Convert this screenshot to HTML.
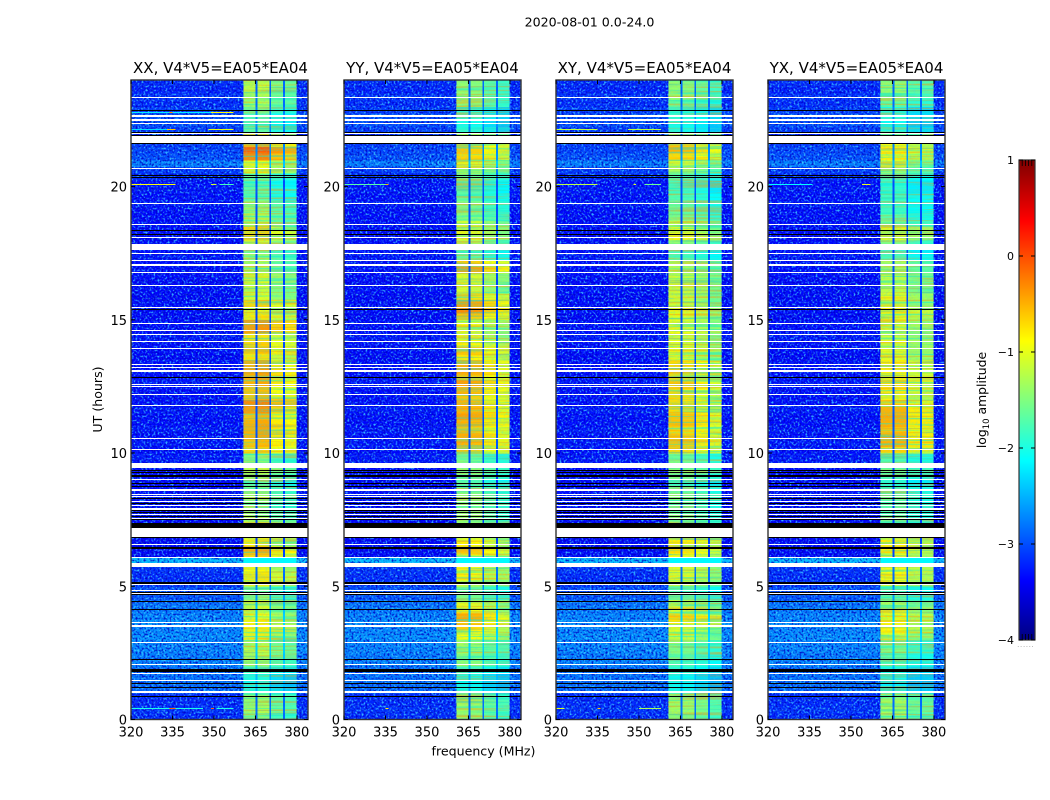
<!DOCTYPE html>
<html>
<head>
<meta charset="utf-8">
<title>2020-08-01 0.0-24.0</title>
<style>
html,body{margin:0;padding:0;background:#fff;}
svg{display:block;font-family:"DejaVu Sans","Liberation Sans",sans-serif;}
text{fill:#000;}
</style>
</head>
<body>
<svg id="chart" xmlns="http://www.w3.org/2000/svg" width="1050" height="800" viewBox="0 0 1050 800">
  <defs>
    <filter id="speckle-light" x="0" y="0" width="100%" height="100%">
      <feTurbulence type="fractalNoise" baseFrequency="0.5" numOctaves="2" seed="7"/>
      <feColorMatrix type="matrix" values="0 0 0 0 0.05  0 0 0 0 0.62  0 0 0 0 1  4 0 0 0 -1.95"/>
    </filter>
    <filter id="speckle-dark" x="0" y="0" width="100%" height="100%">
      <feTurbulence type="fractalNoise" baseFrequency="0.5" numOctaves="2" seed="23"/>
      <feColorMatrix type="matrix" values="0 0 0 0 0  0 0 0 0 0  0 0 0 0 0.55  4 0 0 0 -1.95"/>
    </filter>
    <filter id="stripes-hot" x="0" y="0" width="100%" height="100%">
      <feTurbulence type="fractalNoise" baseFrequency="0.012 0.5" numOctaves="2" seed="11"/>
      <feColorMatrix type="matrix" values="0 0 0 0 1  0 0 0 0 0.3  0 0 0 0 0  4 0 0 0 -1.9"/>
    </filter>
    <filter id="stripes-cool" x="0" y="0" width="100%" height="100%">
      <feTurbulence type="fractalNoise" baseFrequency="0.012 0.5" numOctaves="2" seed="31"/>
      <feColorMatrix type="matrix" values="0 0 0 0 0  0 0 0 0 0.85  0 0 0 0 0.7  4 0 0 0 -1.9"/>
    </filter>
  </defs>
  <rect width="1050" height="800" fill="#fff"/>
  <text x="589.5" y="26.5" font-size="12.6" text-anchor="middle">2020-08-01 0.0-24.0</text>
  <text x="483.5" y="755.5" font-size="12.6" text-anchor="middle">frequency (MHz)</text>
  <text transform="translate(102,399.5) rotate(-90)" font-size="12.6" text-anchor="middle">UT (hours)</text>
  <g id="panels"></g>
  <g id="colorbar"></g>
  <text transform="translate(986,400) rotate(-90)" font-size="12.4" text-anchor="middle">log<tspan font-size="8.5" dy="3">10</tspan><tspan dy="-3"> amplitude</tspan></text>
  <text x="1026" y="647" font-size="6" fill="#777" text-anchor="middle" style="fill:#777;letter-spacing:1px">......</text>
</svg>
<script>
/* ---------- chart data: log10 amplitude, hours (UT), MHz ---------- */
const panelNames = ['XX', 'YY', 'XY', 'YX'];
const rowStepHours = 0.25;
/* quarter-hour rows from 0h upward; value is the peak sub-band level */
const backgroundLevel = [
 -3.2,-3.15,-3.2,-3.2,  -2.85,-2.8,-2.8,-2.8,  -2.7,-2.75,-2.7,-2.7,  -2.65,-2.7,-2.65,-2.7,
 -2.75,-2.8,-2.95,-3.0,  -3.15,-3.2,-3.15,-3.15,  -3.4,-3.4,-3.4,-3.4,  -3.4,-3.4,-3.35,-3.4,
 -3.4,-3.3,-3.35,-3.4,  -3.4,-3.4,-3.3,-3.3,  -3.35,-3.3,-3.35,-3.3,  -3.35,-3.35,-3.3,-3.35,
 -3.35,-3.35,-3.3,-3.35,  -3.35,-3.35,-3.4,-3.35,  -3.35,-3.3,-3.35,-3.35,  -3.4,-3.35,-3.35,-3.4,
 -3.35,-3.4,-3.35,-3.35,  -3.35,-3.3,-3.35,-3.35,  -3.4,-3.35,-3.35,-3.35,  -3.35,-3.3,-3.35,-3.3,
 -3.35,-3.2,-3.1,-2.75,  -3.0,-3.05,-3.1,-3.2,  -3.1,-3.0,-3.0,-3.1,  -3.2,-3.15,-3.25,-3.2
];
const xxBandLevel = [
 -1.5,-1.3,-1.4,-1.4,  -2.0,-2.1,-2.0,-1.8,  -1.4,-1.3,-1.2,-1.3,  -1.0,-0.9,-0.9,-1.0,
 -1.1,-1.2,-1.5,-1.6,  -1.0,-0.8,-0.9,-1.0,  -0.7,-0.5,-0.8,-0.9,  -1.6,-1.2,-1.3,-1.4,
 -1.5,-1.3,-1.5,-1.7,  -1.4,-1.2,-1.4,-1.5,  -0.7,-0.6,-0.5,-0.5,  -0.5,-0.6,-0.4,-0.3,
 -0.6,-0.6,-0.5,-0.5,  -0.4,-0.5,-0.8,-0.6,  -0.7,-0.8,-0.4,-0.4,  -0.8,-1.0,-0.7,-1.1,
 -1.2,-1.1,-1.1,-1.3,  -1.3,-1.4,-1.6,-1.2,  -0.7,-0.7,-1.3,-1.3,  -1.4,-1.4,-1.7,-1.7,
 -1.8,-1.6,-1.0,-1.0,  -0.3,-0.1,-0.5,-1.3,  -1.7,-1.8,-1.8,-1.6,  -1.3,-1.3,-1.2,-1.2
];
const yyBandLevel = [
 -1.4,-1.3,-1.3,-1.4,  -2.0,-2.1,-2.0,-1.8,  -1.4,-1.4,-1.3,-1.3,  -0.9,-0.8,-0.6,-0.5,
 -0.9,-1.0,-1.5,-1.6,  -1.0,-0.8,-0.9,-1.0,  -0.8,-0.6,-0.8,-1.0,  -1.6,-1.4,-1.4,-1.5,
 -1.5,-1.4,-1.5,-1.7,  -1.5,-1.4,-1.5,-1.6,  -0.6,-0.5,-0.5,-0.6,  -0.5,-0.4,-0.5,-0.5,
 -0.6,-0.5,-0.4,-0.6,  -0.4,-0.5,-0.8,-0.6,  -0.8,-1.0,-1.0,-0.9,  -0.6,-0.3,-0.4,-0.7,
 -1.1,-1.0,-1.0,-0.4,  -0.6,-1.6,-1.7,-1.3,  -1.0,-1.0,-1.1,-1.4,  -1.5,-1.5,-1.6,-1.7,
 -1.7,-1.5,-1.1,-1.0,  -0.7,-0.6,-0.6,-1.2,  -1.9,-2.0,-1.9,-1.9,  -1.4,-1.4,-1.4,-1.4
];
const xyBandLevel = [
 -1.4,-1.3,-1.3,-1.4,  -2.1,-2.1,-2.1,-1.9,  -1.7,-1.6,-1.5,-1.4,  -1.1,-1.0,-0.8,-0.7,
 -1.1,-1.2,-1.6,-1.7,  -1.1,-1.0,-1.0,-1.1,  -0.9,-0.7,-0.8,-1.0,  -1.7,-1.4,-1.5,-1.6,
 -1.6,-1.4,-1.6,-1.8,  -1.5,-1.4,-1.5,-1.6,  -0.7,-0.6,-0.6,-0.7,  -0.6,-0.6,-0.7,-0.7,
 -0.7,-0.7,-0.6,-0.7,  -0.6,-0.7,-1.0,-0.9,  -1.0,-1.1,-0.9,-1.0,  -1.0,-1.0,-1.1,-1.1,
 -1.1,-1.1,-1.1,-1.2,  -1.2,-1.7,-1.8,-1.4,  -0.9,-1.0,-1.2,-1.5,  -1.6,-1.6,-1.7,-1.8,
 -1.8,-1.7,-1.3,-1.1,  -0.7,-0.5,-0.6,-1.3,  -2.0,-2.0,-1.9,-1.9,  -1.6,-1.4,-1.4,-1.4
];
const yxBandLevel = [
 -1.4,-1.3,-1.3,-1.4,  -2.1,-2.2,-2.1,-2.0,  -1.7,-1.7,-1.5,-1.6,  -1.1,-0.9,-0.9,-0.9,
 -1.1,-1.3,-1.7,-1.8,  -1.0,-0.9,-0.9,-1.0,  -1.0,-0.8,-0.8,-1.0,  -1.8,-1.6,-1.7,-1.7,
 -1.7,-1.6,-1.7,-1.9,  -1.7,-1.5,-1.7,-1.7,  -0.7,-0.5,-0.5,-0.6,  -0.5,-0.5,-0.5,-0.7,
 -0.9,-0.8,-0.7,-0.8,  -0.8,-0.8,-1.0,-1.0,  -1.0,-1.1,-1.1,-1.0,  -0.9,-0.8,-1.1,-1.0,
 -1.2,-1.2,-1.2,-1.3,  -1.3,-1.8,-1.9,-1.5,  -1.0,-1.0,-1.5,-1.7,  -1.8,-1.8,-1.8,-1.9,
 -1.9,-1.8,-1.4,-1.2,  -0.9,-0.8,-0.9,-1.4,  -2.0,-2.1,-2.0,-2.0,  -1.6,-1.5,-1.4,-1.4
];
/* level offset of sub-bands 1..4 relative to the peak, per panel */
const xxSubBandOffset = [0, 0.05, -0.28, -0.38];
const yySubBandOffset = [0, -0.05, -0.3, -0.45];
const xySubBandOffset = [0, -0.05, -0.22, -0.42];
const yxSubBandOffset = [0, 0, -0.3, -0.32];
/* receiver sub-band edges, MHz */
const subBandStart = [360.6, 365.7, 370.6, 375.7];
const subBandEnd = [365.0, 370.0, 375.0, 379.9];
const gapLevelOffset = 0.35;
/* whole-row bright interference */
const wideBandStart = [5.86];
const wideBandEnd = [6.09];
const wideBandValue = [-2.45];
/* narrow interference lines */
const rfiHour = [22.8, 22.8, 22.8,  22.16, 22.16, 22.16,  20.1, 20.1, 20.1,  0.43, 0.43, 0.43, 0.43,  20.1, 20.1,  0.43,  22.16, 22.16, 20.1, 20.1, 20.1, 0.43, 0.43, 0.43,  20.1, 20.1];
const rfiFrom = [320, 334, 349,  320, 333, 348,  320, 349, 352,  320, 334, 349, 351,  320, 335,  335,  320, 346, 320, 348, 352, 320, 335, 350,  320, 354];
const rfiTo = [357, 335, 357,  334, 336, 357,  336, 351, 357,  346, 336, 350, 357,  336, 336,  336,  335, 358, 335, 349, 358, 323, 336, 358,  336, 357];
const rfiValue = [-2.2, -0.3, -0.9,  -2.3, -0.6, -1.0,  -0.9, -1.1, -1.8,  -2.0, -0.1, -0.1, -2.0,  -1.7, -0.5,  -0.8,  -1.2, -1.2, -1.2, -1.0, -1.6, -1.0, -0.6, -1.3,  -2.1, -1.0];
const rfiPanel = [0, 0, 0,  0, 0, 0,  0, 0, 0,  0, 0, 0, 0,  1, 1,  1,  2, 2, 2, 2, 2, 2, 2, 2,  3, 3];
/* flagged data: white = no data, black = flagged */
const whiteLineHour = [23.35,22.65,22.5,22.35,22.0,19.37,18.58,18.09,17.49,17.24,17.09,17.04,16.78,16.29,15.47,14.87,14.6,14.45,14.2,13.93,13.33,13.22,13.08,12.58,12.5,12.2,11.79,10.55,10.14,8.99,8.45,8.36,8.17,8.04,7.9,7.7,7.56,6.57,6.09,5.08,4.83,4.74,3.63,3.51,2.9,2.07,1.74,1.48];
const whiteBandStart = [21.63,20.66,17.62,9.43,8.57,6.85,5.72,0.99];
const whiteBandEnd = [21.91,20.71,17.84,9.62,8.65,7.19,5.86,1.07];
const blackLineHour = [22.86,22.04,21.93,21.61,20.33,18.34,18.19,15.4,12.84,9.33,9.27,8.84,8.74,8.3,8.12,7.86,7.61,7.49,6.84,4.78,4.71,4.13,2.26,1.36,1.21,0.88];
const blackBandStart = [20.38,9.09,7.74,7.19,6.4,5.1,4.41,1.77];
const blackBandEnd = [20.43,9.18,7.8,7.36,6.49,5.15,4.46,1.88];
/* tick labels */
const freqTicks = [320, 335, 350, 365, 380];
const hourTicks = [0, 5, 10, 15, 20];
const colorbarTicks = [-4, -3, -2, -1, 0, 1];

/* ---------- layout and scales ---------- */
const NS = 'http://www.w3.org/2000/svg';
const plotTop = 80, plotBottom = 719.5, plotWidth = 177;
const freqMin = 320, freqMax = 384, hourMin = 0, hourMax = 24;
const levelMin = -4, levelMax = 1;
const panelLeft = i => Math.round(131.2 + i * 212.4);
const panelLevels = [xxBandLevel, yyBandLevel, xyBandLevel, yxBandLevel];
const panelOffsets = [xxSubBandOffset, yySubBandOffset, xySubBandOffset, yxSubBandOffset];
const xScale = (mhz, left) => left + (mhz - freqMin) / (freqMax - freqMin) * plotWidth;
const yScale = h => plotBottom - (h - hourMin) / (hourMax - hourMin) * (plotBottom - plotTop);

function jet(v) {
  const t = Math.max(0, Math.min(1, (v - levelMin) / (levelMax - levelMin)));
  const ch = x => Math.round(255 * Math.max(0, Math.min(1, 1.5 - Math.abs(4 * t - x))));
  return 'rgb(' + ch(3) + ',' + ch(2) + ',' + ch(1) + ')';
}
function make(tag, attrs, parent) {
  const el = document.createElementNS(NS, tag);
  for (const k in attrs) el.setAttribute(k, attrs[k]);
  parent.appendChild(el);
  return el;
}
function cell(parent, x0, x1, y0, y1, fill) {
  return make('rect', {x: x0.toFixed(2), y: y0.toFixed(2), width: (x1 - x0).toFixed(2), height: (y1 - y0).toFixed(2), fill: fill, 'shape-rendering': 'crispEdges'}, parent);
}
/* flag rows snap to whole pixels so thin rows stay pure white or black */
function flagRow(parent, left, right, hTop, hBottom, fill) {
  const y0 = Math.round(yScale(hTop));
  const h = Math.max(1, Math.round(yScale(hBottom)) - y0);
  return make('rect', {x: left, y: y0, width: right - left, height: h, fill: fill, 'shape-rendering': 'crispEdges'}, parent);
}

const panelsRoot = document.getElementById('panels');
panelNames.forEach(function (name, p) {
  const left = panelLeft(p), right = left + plotWidth;
  const g = make('g', {}, panelsRoot);
  
  

  const title = make('text', {x: left + plotWidth / 2 + (p === 0 ? 1 : 0), y: 73, 'font-size': 15, 'text-anchor': 'middle'}, g);
  
  
  title.textContent = name + ', V4*V5=EA05*EA04';

  const levels = panelLevels[p], offs = panelOffsets[p];
  const heat = make('g', {}, g);
  
  

  /* background rows, then their speckle */
  backgroundLevel.forEach(function (bg, r) {
    const y0 = yScale((r + 1) * rowStepHours), y1 = yScale(r * rowStepHours) + 0.4;
    const bgCell = cell(heat, left, right, y0, y1, jet(bg));
    
    
  });
  wideBandStart.forEach(function (h0, i) {
    const wide = cell(heat, left, right, yScale(wideBandEnd[i]), yScale(h0), jet(wideBandValue[i]));
    
    
  });
  const noise1 = make('rect', {x: left, y: plotTop, width: plotWidth, height: plotBottom - plotTop, filter: 'url(#speckle-light)', opacity: 0.85}, g);
  
  
  const noise2 = make('rect', {x: left, y: plotTop, width: plotWidth, height: plotBottom - plotTop, filter: 'url(#speckle-dark)', opacity: 0.85}, g);
  
  

  /* sub-band cells, their striping, then the gaps */
  const bands = make('g', {}, g);
  
  
  backgroundLevel.forEach(function (bg, r) {
    const y0 = yScale((r + 1) * rowStepHours), y1 = yScale(r * rowStepHours) + 0.4;
    subBandStart.forEach(function (f0, b) {
      const bandCell = cell(bands, xScale(f0, left), xScale(subBandEnd[b], left), y0, y1, jet(levels[r] + offs[b]));
      
      
    });
  });
  const bandLeft = xScale(subBandStart[0], left), bandRight = xScale(subBandEnd[3], left);
  const hot = make('rect', {x: bandLeft, y: plotTop, width: bandRight - bandLeft, height: plotBottom - plotTop, filter: 'url(#stripes-hot)', opacity: 0.5}, g);
  
  
  const cool = make('rect', {x: bandLeft, y: plotTop, width: bandRight - bandLeft, height: plotBottom - plotTop, filter: 'url(#stripes-cool)', opacity: 0.5}, g);
  
  
  const bandSpeckle = make('rect', {x: bandLeft, y: plotTop, width: bandRight - bandLeft, height: plotBottom - plotTop, filter: 'url(#speckle-light)', opacity: 0.22}, g);
  
  
  backgroundLevel.forEach(function (bg, r) {
    const y0 = yScale((r + 1) * rowStepHours), y1 = yScale(r * rowStepHours) + 0.4;
    for (let b = 0; b < subBandStart.length - 1; b++) {
      const gapCell = cell(g, xScale(subBandEnd[b], left), xScale(subBandStart[b + 1], left), y0, y1, jet(bg + gapLevelOffset));
      
      
    }
  });
  wideBandStart.forEach(function (h0, i) {
    const wideOver = cell(g, bandLeft, bandRight, yScale(wideBandEnd[i]), yScale(h0), jet(wideBandValue[i] + 0.3));
    
    
  });

  rfiHour.forEach(function (h, i) {
    if (rfiPanel[i] !== p) return;
    const rfi = make('rect', {x: xScale(rfiFrom[i], left).toFixed(2), y: Math.round(yScale(h)), width: ((rfiTo[i] - rfiFrom[i]) / (freqMax - freqMin) * plotWidth).toFixed(2), height: 1, fill: jet(rfiValue[i]), 'shape-rendering': 'crispEdges'}, g);
    
    
  });

  blackLineHour.forEach(function (h) {
    const m = flagRow(g, left, right, h + 0.02, h - 0.02, '#000');
    
    
  });
  blackBandStart.forEach(function (h0, i) {
    const m = flagRow(g, left, right, blackBandEnd[i], h0, '#000');
    
    
  });
  whiteLineHour.forEach(function (h) {
    const m = flagRow(g, left, right, h + 0.02, h - 0.02, '#fff');
    
    
  });
  whiteBandStart.forEach(function (h0, i) {
    const m = flagRow(g, left, right, whiteBandEnd[i], h0, '#fff');
    
    
  });

  const spine = make('rect', {x: left, y: plotTop, width: plotWidth, height: plotBottom - plotTop, fill: 'none', stroke: '#333', 'stroke-width': 1.4}, g);
  
  

  freqTicks.forEach(function (f) {
    const x = xScale(f, left);
    const t1 = make('line', {x1: x, x2: x, y1: plotBottom, y2: plotBottom - 4, stroke: '#000'}, g);
    
    
    const t2 = make('line', {x1: x, x2: x, y1: plotTop, y2: plotTop + 4, stroke: '#000'}, g);
    
    
    const lab = make('text', {x: x, y: plotBottom + 17, 'font-size': 13, 'text-anchor': 'middle'}, g);
    
    
    lab.textContent = f;
  });
  hourTicks.forEach(function (h) {
    const y = yScale(h);
    const t1 = make('line', {x1: left, x2: left + 4, y1: y, y2: y, stroke: '#000'}, g);
    
    
    const t2 = make('line', {x1: right, x2: right - 4, y1: y, y2: y, stroke: '#000'}, g);
    
    
    const lab = make('text', {x: left - 4, y: y + 5, 'font-size': 13, 'text-anchor': 'end'}, g);
    
    
    lab.textContent = h;
  });
});

/* ---------- colorbar ---------- */
const cbar = document.getElementById('colorbar');
const cbLeft = 1019, cbRight = 1035, cbTop = 160, cbBottom = 640;
const cbY = v => cbBottom - (v - levelMin) / (levelMax - levelMin) * (cbBottom - cbTop);
const cbSteps = 240;
for (let i = 0; i < cbSteps; i++) {
  const v0 = levelMin + (levelMax - levelMin) * i / cbSteps;
  const v1 = levelMin + (levelMax - levelMin) * (i + 1) / cbSteps;
  const sw = cell(cbar, cbLeft, cbRight, cbY(v1), cbY(v0) + 0.4, jet((v0 + v1) / 2));
  
  
}
const cbFrame = make('rect', {x: cbLeft, y: cbTop, width: cbRight - cbLeft, height: cbBottom - cbTop, fill: 'none', stroke: '#333', 'stroke-width': 1.2}, cbar);


colorbarTicks.forEach(function (v) {
  const y = cbY(v);
  const a = make('line', {x1: cbLeft, x2: cbLeft + 4, y1: y, y2: y, stroke: '#000'}, cbar);
  
  
  const b = make('line', {x1: cbRight, x2: cbRight - 4, y1: y, y2: y, stroke: '#000'}, cbar);
  
  
  const lab = make('text', {x: cbLeft - 5, y: y + 4, 'font-size': 11, 'text-anchor': 'end'}, cbar);
  
  
  lab.textContent = v < 0 ? '\u2212' + Math.abs(v) : String(v);
});
for (let i = 1; i <= 4; i++) {
  const x = cbLeft + i * (cbRight - cbLeft) / 5;
  const top = make('line', {x1: x, x2: x, y1: cbTop, y2: cbTop + 6, stroke: '#000', 'stroke-width': 0.8}, cbar);
  
  
  const bot = make('line', {x1: x, x2: x, y1: cbBottom, y2: cbBottom - 6, stroke: '#000', 'stroke-width': 0.8}, cbar);
  
  
}
</script>
</body>
</html>
